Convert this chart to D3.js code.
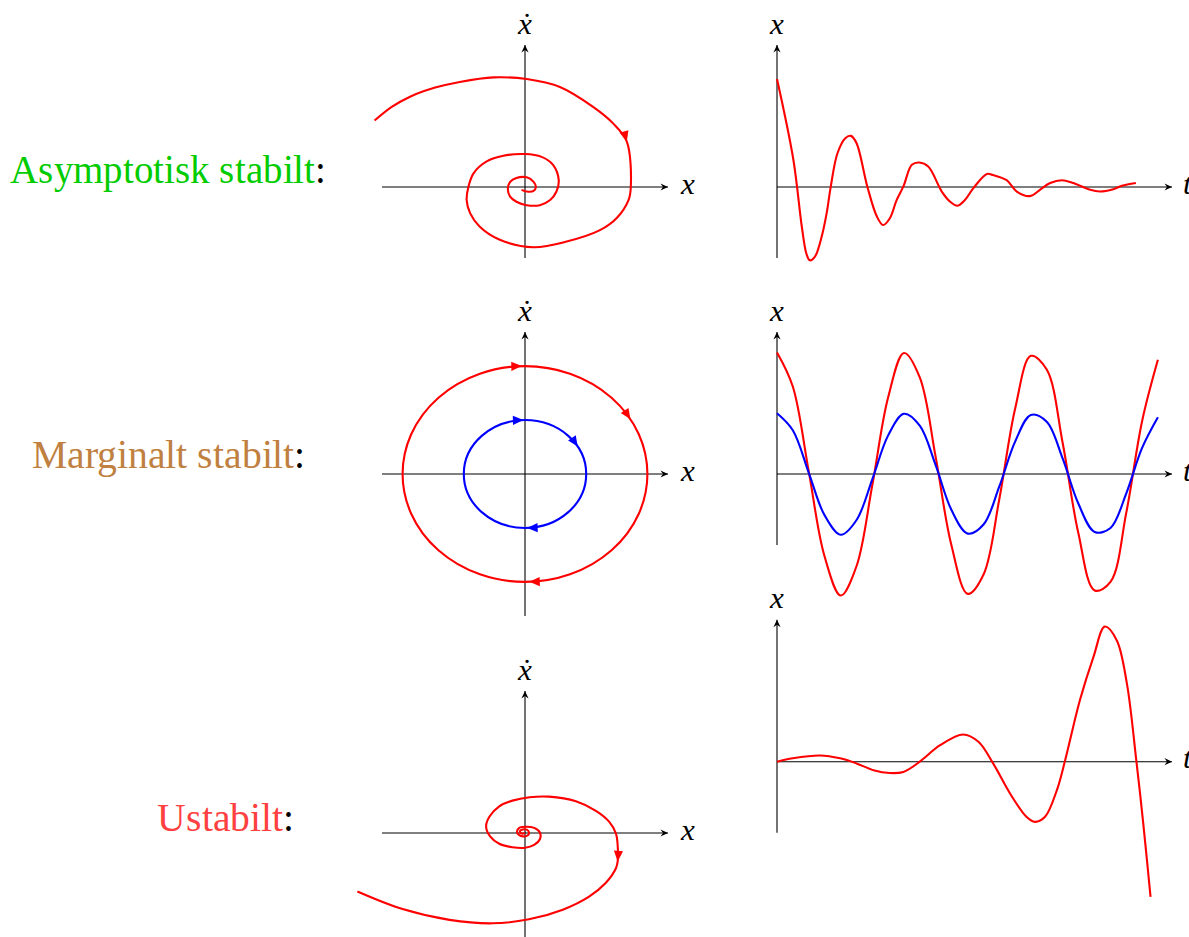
<!DOCTYPE html>
<html>
<head>
<meta charset="utf-8">
<script src="https://cdn.jsdelivr.net/npm/d3@7"></script>
<style>
  @font-face {
    font-family: "CaptionSerif";
    font-style: normal;
    src: local("Liberation Serif"), local("LiberationSerif"), local("Tinos"), local("DejaVu Serif");
  }
  @font-face {
    font-family: "CaptionSerif";
    font-style: italic;
    src: local("Liberation Serif Italic"), local("LiberationSerif-Italic"), local("Tinos Italic"), local("DejaVu Serif Italic");
  }
  html, body { margin: 0; padding: 0; background: #fff; }
  svg { display: block; }
  .domain { stroke: #000; stroke-width: 1.1; }
</style>
</head>
<body>
<svg id="chart" width="1189" height="937"></svg>
<script>
// ---------- row captions ----------
const rowLabels = ["Asymptotisk stabilt", "Marginalt stabilt", "Ustabilt"];
const rowLabelColors = ["#00cc00", "#bf8040", "#ff4040"];

// ---------- row 1: damped oscillation ----------
// phase trajectory (x, xdot), spiralling clockwise into the origin
const dampedPhaseX = [-2.63, -2.33, -2.01, -1.57, -1.14, -0.55, 0.03, 0.61, 1.19, 1.54, 1.78, 1.85, 1.81, 1.60, 1.31, 0.73, 0.15, -0.44, -0.79, -0.96, -1.02, -0.99, -0.90, -0.67, -0.38, 0, 0.29, 0.49, 0.59, 0.55, 0.44, 0.26, 0.03, -0.15, -0.26, -0.30, -0.26, -0.15, 0.03, 0.15, 0.19, 0.15, 0.03, -0.06];
const dampedPhaseV = [1.17, 1.41, 1.59, 1.75, 1.85, 1.93, 1.90, 1.76, 1.41, 1.12, 0.80, 0.00, -0.23, -0.55, -0.76, -0.96, -1.06, -0.93, -0.70, -0.46, -0.23, 0.00, 0.24, 0.45, 0.55, 0.58, 0.53, 0.39, 0.12, -0.08, -0.23, -0.32, -0.32, -0.26, -0.17, -0.04, 0.09, 0.16, 0.17, 0.09, 0.00, -0.07, -0.08, -0.05];
const dampedArrowAt = [10];
// time response x(t)
const dampedT = [0, 0.29, 0.44, 0.52, 0.58, 0.67, 0.79, 0.88, 0.95, 1.07, 1.21, 1.31, 1.41, 1.60, 1.77, 1.88, 2.00, 2.12, 2.24, 2.39, 2.52, 2.68, 2.92, 3.07, 3.20, 3.33, 3.48, 3.72, 3.83, 4.07, 4.25, 4.48, 4.66, 4.84, 5.05, 5.25, 5.55, 5.72, 5.96, 6.11, 6.36];
const dampedX = [1.90, 0.48, -0.70, -1.17, -1.29, -1.23, -0.88, -0.46, -0.01, 0.59, 0.86, 0.90, 0.77, 0.01, -0.52, -0.67, -0.55, -0.23, 0.01, 0.39, 0.43, 0.36, -0.08, -0.26, -0.33, -0.23, -0.02, 0.23, 0.21, 0.12, -0.08, -0.16, -0.05, 0.07, 0.12, 0.07, -0.05, -0.08, -0.04, 0.02, 0.07];

// ---------- row 2: undamped oscillation ----------
// closed orbits: amplitude in x and in xdot, one per curve
const orbitAmpX = [2.14, 1.07];
const orbitAmpV = [1.90, 0.95];
const orbitColors = ["#ff0000", "#0000ff"];
// direction marks on each orbit, as angle (degrees) around the ellipse
const orbitArrowAngles = [91.5, 30.5, -88];
// time response of both orbits
const marginalT = [0, 0.28, 0.56, 0.84, 1.13, 1.41, 1.69, 1.97, 2.25, 2.53, 2.81, 3.09, 3.38, 3.66, 3.94, 4.22, 4.50, 4.78, 5.06, 5.34, 5.63, 5.91, 6.19, 6.47, 6.75];
const marginalXRed = [2.14, 1.54, 0.06, -1.44, -2.14, -1.62, -0.19, 1.35, 2.13, 1.70, 0.31, -1.25, -2.11, -1.77, -0.44, 1.15, 2.08, 1.84, 0.56, -1.04, -2.05, -1.90, -0.68, 0.93, 2.01];
const marginalXBlue = [1.07, 0.77, 0.03, -0.72, -1.07, -0.81, -0.09, 0.68, 1.06, 0.85, 0.16, -0.63, -1.05, -0.89, -0.22, 0.57, 1.04, 0.92, 0.28, -0.52, -1.02, -0.95, -0.34, 0.46, 1.00];

// ---------- row 3: growing oscillation ----------
const unstablePhaseX = [0, -0.06, -0.09, -0.04, 0.03, 0.07, 0.05, -0.03, -0.11, -0.14, -0.10, 0.02, 0.16, 0.26, 0.26, 0.16, 0, -0.22, -0.45, -0.61, -0.68, -0.62, -0.45, -0.22, 0.08, 0.42, 0.89, 1.24, 1.47, 1.59, 1.62, 1.62, 1.59, 1.41, 1.12, 0.66, 0.07, -0.57, -1.32, -2.14, -2.93];
const unstablePhaseV = [0, -0.01, 0.03, 0.06, 0.06, 0.01, -0.04, -0.06, -0.03, 0.03, 0.09, 0.11, 0.09, 0.01, -0.11, -0.21, -0.26, -0.25, -0.19, -0.06, 0.12, 0.29, 0.47, 0.57, 0.63, 0.64, 0.56, 0.39, 0.20, -0.01, -0.22, -0.50, -0.62, -0.88, -1.12, -1.35, -1.52, -1.59, -1.53, -1.34, -1.03];
const unstableArrowAt = [31];
const unstableT = [0, 0.28, 0.76, 1.12, 1.41, 1.71, 2.00, 2.24, 2.53, 2.89, 3.30, 3.57, 3.83, 4.13, 4.42, 4.57, 4.75, 4.96, 5.10, 5.37, 5.61, 5.81, 6.02, 6.20, 6.37, 6.49, 6.62];
const unstableX = [0, 0.06, 0.11, 0.06, -0.03, -0.15, -0.20, -0.18, 0, 0.29, 0.48, 0.35, -0.03, -0.56, -0.97, -1.06, -0.97, -0.50, 0, 1.09, 1.85, 2.38, 2.14, 1.38, 0, -1.08, -2.38];

// ---------- drawing ----------
const svg = d3.select("#chart");
const curveColor = "#ff0000";
const serifStack = '"CaptionSerif", "Liberation Serif", "Tinos", "Times New Roman", "DejaVu Serif", serif';

// small stealth head used at the end of every axis
function axisHead(g, x, y, rot) {
  g.append("path")
    .attr("d", "M0,0 L-7.5,-3.6 L-5,0 L-7.5,3.6 Z")
    .attr("fill", "#000")
    .attr("transform", `translate(${x},${y}) rotate(${rot})`);
}

// filled triangular head marking the direction of travel
function flowHead(g, x, y, angleDeg, color) {
  g.append("path")
    .attr("d", "M0,0 L-10.5,-4.6 L-10.5,4.6 Z")
    .attr("fill", color)
    .attr("transform", `translate(${x},${y}) rotate(${angleDeg})`);
}

function mathLabel(g, x, y, txt, anchor) {
  g.append("text")
    .attr("x", x).attr("y", y)
    .attr("text-anchor", anchor)
    .style("font-family", serifStack)
    .style("font-style", "italic")
    .attr("font-size", 31)
    .attr("fill", "#000")
    .text(txt);
}

function phasePanel(cx, cy, vMin) {
  const g = svg.append("g");
  const x = d3.scaleLinear().domain([-2.5, 2.5]).range([cx - 143, cx + 143]);
  const y = d3.scaleLinear().domain([-2.5, 2.5]).range([cy + 142, cy - 142]);
  g.append("g").attr("transform", `translate(0,${y(0)})`)
    .call(d3.axisBottom(x).tickValues([]).tickSizeOuter(0).offset(0));
  const yAx = y.copy().domain([vMin, 2.5]).range([y(vMin), y(2.5)]);
  g.append("g").attr("transform", `translate(${x(0)},0)`)
    .call(d3.axisLeft(yAx).tickValues([]).tickSizeOuter(0).offset(0));
  axisHead(g, x(2.5), y(0), 0);
  axisHead(g, x(0), y(2.5), -90);
  mathLabel(g, x(0), y(0) - 153.5, "ẋ", "middle");
  mathLabel(g, x(2.5) + 13, y(0) + 6.5, "x", "start");
  return { g, x, y };
}

function timePanel(ox, oy) {
  const g = svg.append("g");
  const x = d3.scaleLinear().domain([0, 7]).range([ox, ox + 395]);
  const y = d3.scaleLinear().domain([-1.25, 2.5]).range([oy + 71, oy - 142]);
  g.append("g").attr("transform", `translate(0,${y(0)})`)
    .call(d3.axisBottom(x).tickValues([]).tickSizeOuter(0).offset(0));
  g.append("g").attr("transform", `translate(${x(0)},0)`)
    .call(d3.axisLeft(y).tickValues([]).tickSizeOuter(0).offset(0));
  axisHead(g, x(7), y(0), 0);
  axisHead(g, x(0), y(2.5), -90);
  mathLabel(g, x(0), y(0) - 153.5, "x", "middle");
  mathLabel(g, x(7) + 11, y(0) + 6.5, "t", "start");
  return { g, x, y };
}

function drawCurve(g, pts, color) {
  return g.append("path")
    .attr("d", d3.line().curve(d3.curveCatmullRom.alpha(0.5))(pts))
    .attr("fill", "none")
    .attr("stroke", color)
    .attr("stroke-width", 2.1)
    .attr("stroke-linejoin", "round");
}

// direction head at a data point, pointing along the chord through its neighbours
function headsAtPoints(g, pts, indices, color) {
  indices.forEach(i => {
    const a = pts[i - 1], b = pts[i + 1];
    const ang = Math.atan2(b[1] - a[1], b[0] - a[0]) * 180 / Math.PI;
    flowHead(g, pts[i][0], pts[i][1], ang, color);
  });
}

function caption(i, x, y, len) {
  const t = svg.append("text")
    .attr("x", x).attr("y", y)
    .style("font-family", serifStack)
    .attr("font-size", 40)
    .attr("textLength", len)
    .attr("lengthAdjust", "spacingAndGlyphs");
  t.append("tspan").attr("fill", rowLabelColors[i]).text(rowLabels[i]);
  t.append("tspan").attr("fill", "#000").text(":");
}

// --- row 1 ---
{
  const p = phasePanel(525, 187, -1.25);
  const pts = dampedPhaseX.map((v, i) => [p.x(v), p.y(dampedPhaseV[i])]);
  drawCurve(p.g, pts, curveColor);
  headsAtPoints(p.g, pts, dampedArrowAt, curveColor);

  const tp = timePanel(777, 187);
  drawCurve(tp.g, dampedT.map((t, i) => [tp.x(t), tp.y(dampedX[i])]), curveColor);
  caption(0, 10, 182.7, 315.5);
}

// --- row 2 ---
{
  const p = phasePanel(525, 474, -2.5);
  orbitAmpX.forEach((ax, k) => {
    const rx = p.x(ax) - p.x(0);
    const ry = p.y(0) - p.y(orbitAmpV[k]);
    p.g.append("ellipse")
      .attr("cx", p.x(0)).attr("cy", p.y(0))
      .attr("rx", rx).attr("ry", ry)
      .attr("fill", "none")
      .attr("stroke", orbitColors[k])
      .attr("stroke-width", 2.1);
    orbitArrowAngles.forEach(deg => {
      const th = deg * Math.PI / 180;
      const px = p.x(0) + rx * Math.cos(th);
      const py = p.y(0) - ry * Math.sin(th);
      // clockwise travel on screen
      const dx = rx * Math.sin(th), dy = ry * Math.cos(th);
      flowHead(p.g, px, py, Math.atan2(dy, dx) * 180 / Math.PI, orbitColors[k]);
    });
  });

  const tp = timePanel(777, 474);
  drawCurve(tp.g, marginalT.map((t, i) => [tp.x(t), tp.y(marginalXRed[i])]), orbitColors[0]);
  drawCurve(tp.g, marginalT.map((t, i) => [tp.x(t), tp.y(marginalXBlue[i])]), orbitColors[1]);
  caption(1, 31.7, 468.3, 273.5);
}

// --- row 3 ---
{
  const p = phasePanel(525, 833, -2.5);
  const pts = unstablePhaseX.map((v, i) => [p.x(v), p.y(unstablePhaseV[i])]);
  drawCurve(p.g, pts, curveColor);
  headsAtPoints(p.g, pts, unstableArrowAt, curveColor);

  const tp = timePanel(777, 761.7);
  drawCurve(tp.g, unstableT.map((t, i) => [tp.x(t), tp.y(unstableX[i])]), curveColor);
  caption(2, 157.3, 831, 136.2);
}
</script>
</body>
</html>
